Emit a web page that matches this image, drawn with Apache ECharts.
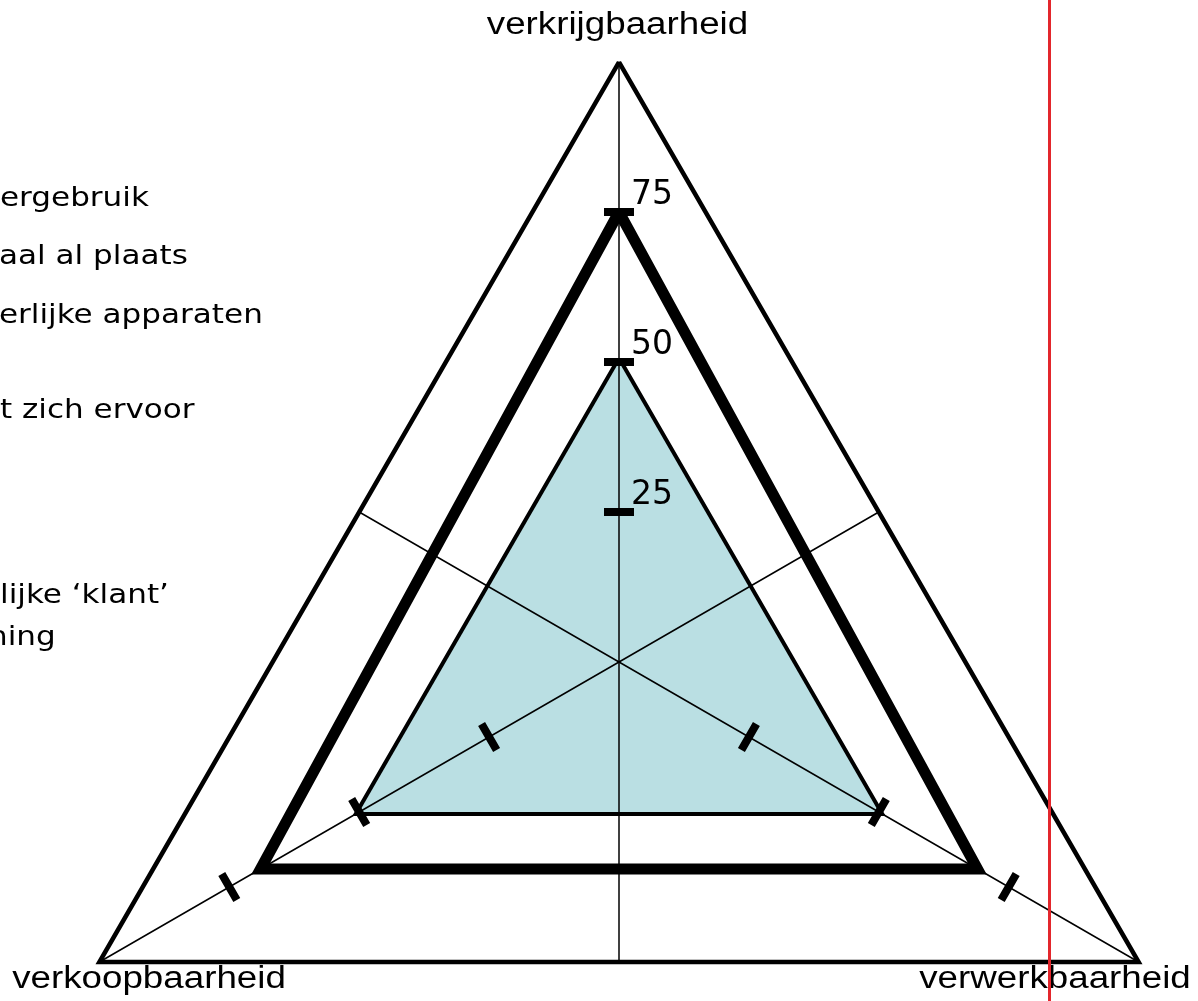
<!DOCTYPE html>
<html>
<head>
<meta charset="utf-8">
<title>verkrijgbaarheid - verkoopbaarheid - verwerkbaarheid</title>
<script src="https://cdn.jsdelivr.net/npm/echarts@6/dist/echarts.min.js"></script>
<style>
	html, body { margin: 0; padding: 0; background: #fff; }
	#radarChart { width: 1198px; height: 1001px; }
</style>
</head>
<body>
<div id="radarChart"></div>
<script>
	// assen, vanaf boven tegen de klok in
	var indicatorNames = ['verkrijgbaarheid', 'verkoopbaarheid', 'verwerkbaarheid'];
	var axisMax = 100;
	var tickValues = [25, 50, 75];
	// gevulde driehoek en dikke lijn
	var filledValues = [50, 50, 50];
	var thickValues = [75, 69, 69];
	// tekst links die door de figuur is afgesneden
	var sideNotes = ['ergebruik', 'aal al plaats', 'erlijke apparaten', 't zich ervoor', 'lijke \u2018klant\u2019', 'ning'];

	var center = [619, 662];
	var R = 600;
	var tickLen = 30;
	var namePos = [[617.5, 25.5], [149, 979.5], [1055, 979.5]];
	var notePos = [[0, 198.7], [-1, 257.4], [-1, 315.7], [0, 411.4], [0, 595.7], [-12, 637.7]];

	var chart = echarts.init(document.getElementById('radarChart'));

	// streepjes op as k: radar iets verschoven zodat het streepje midden over de as valt
	function tickRadar(k) {
		var lo = tickValues[0];
		var hi = tickValues[tickValues.length - 1];
		var a = (90 + 120 * k) * Math.PI / 180;
		var half = tickLen / 2;
		return {
			z: 4,
			center: [center[0] + half * Math.sin(a), center[1] + half * Math.cos(a)],
			radius: [R * lo / axisMax, R * hi / axisMax],
			startAngle: 90,
			shape: 'polygon',
			splitNumber: tickValues.length - 1,
			indicator: indicatorNames.map(function (n, i) {
				return {
					name: n,
					min: lo,
					max: hi,
					axisTick: { show: i === k },
					axisLabel: { show: k === 0 && i === 0 }
				};
			}),
			axisName: { show: false },
			axisLine: { show: false },
			axisTick: { show: false, length: tickLen, lineStyle: { color: '#000', width: 8 } },
			axisLabel: {
				show: false,
				color: '#000',
				fontSize: 33,
				fontFamily: 'DejaVu Sans',
				align: 'left',
				verticalAlign: 'bottom',
				margin: 3
			},
			splitLine: { show: false },
			splitArea: { show: false }
		};
	}

	var graphics = [];
	indicatorNames.forEach(function (n, i) {
		graphics.push({
			type: 'text',
			x: namePos[i][0],
			y: namePos[i][1],
			scaleX: 1.185,
			style: {
				text: n,
				font: '31px "Liberation Sans"',
				fill: '#000',
				align: 'center',
				verticalAlign: 'middle',
				textAlign: 'center',
				textVerticalAlign: 'middle'
			}
		});
	});
	sideNotes.forEach(function (t, i) {
		graphics.push({
			type: 'text',
			x: notePos[i][0],
			y: notePos[i][1],
			scaleX: 1.15,
			style: {
				text: t,
				font: '27px "DejaVu Sans"',
				fill: '#000',
				align: 'left',
				verticalAlign: 'middle',
				textAlign: 'left',
				textVerticalAlign: 'middle'
			}
		});
	});
	// rode verticale lijn
	graphics.push({
		type: 'line',
		z: 100,
		shape: { x1: 1049.5, y1: 0, x2: 1049.5, y2: 1001 },
		style: { stroke: '#e3262c', lineWidth: 3 }
	});

	var option = {
		animation: false,
		backgroundColor: '#fff',
		radar: [
			{
				z: 3,
				center: center,
				radius: R,
				startAngle: 90,
				shape: 'polygon',
				splitNumber: 4,
				indicator: indicatorNames.map(function (n) {
					return { name: n, max: axisMax };
				}),
				axisName: { show: false },
				axisLine: { show: true, lineStyle: { color: '#000', width: 1.5 } },
				axisTick: { show: false },
				axisLabel: { show: false },
				splitLine: {
					show: true,
					lineStyle: {
						color: ['rgba(0,0,0,0)', 'rgba(0,0,0,0)', 'rgba(0,0,0,0)', 'rgba(0,0,0,0)', '#000'],
						width: 4.5,
						join: 'miter'
					}
				},
				splitArea: { show: false }
			},
			{
				// verlengde spaken door het midden tot de overstaande zijde
				z: 3,
				center: center,
				radius: R / 2,
				startAngle: 270,
				shape: 'polygon',
				indicator: indicatorNames.map(function () {
					return { name: '', max: 1 };
				}),
				axisName: { show: false },
				axisLine: { show: true, lineStyle: { color: '#000', width: 1.5 } },
				axisTick: { show: false },
				axisLabel: { show: false },
				splitLine: { show: false },
				splitArea: { show: false }
			},
			tickRadar(0),
			tickRadar(1),
			tickRadar(2)
		],
		graphic: graphics,
		series: [{
			type: 'radar',
			radarIndex: 0,
			z: 2,
			silent: true,
			symbol: 'none',
			data: [
				{
					value: filledValues,
					// de vulling ligt over de binnenste helft van de lijn
					lineStyle: { color: '#000', width: 8, join: 'miter' },
					areaStyle: { color: '#badfe3', opacity: 1 }
				},
				{
					value: thickValues,
					lineStyle: { color: '#000', width: 11, join: 'miter' }
				}
			]
		}]
	};

	chart.setOption(option);
</script>
</body>
</html>
